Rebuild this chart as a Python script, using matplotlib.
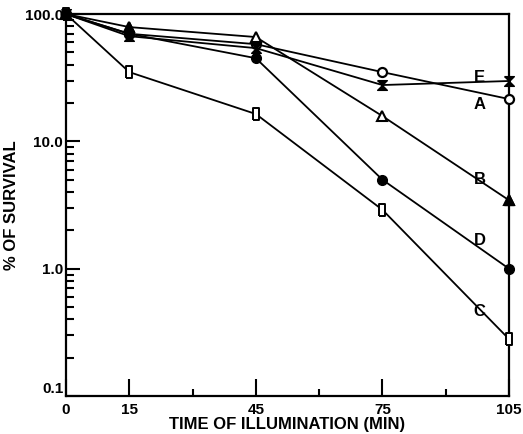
import matplotlib
matplotlib.use("Agg")
import matplotlib.pyplot as plt
from matplotlib.ticker import FixedLocator, NullFormatter

# time of illumination (min)
times = [0, 15, 45, 75, 105]

# % of survival
surv_a = [100, 70, 58, 35, 21.5]
surv_b = [100, 79, 66, 15.8, 3.45]
surv_c = [100, 35, 16.4, 2.9, 0.28]
surv_d = [100, 70, 45, 5.0, 1.0]
surv_e = [100, 67, 54, 27.7, 29.8]

curve_labels = ["A", "B", "C", "D", "E"]
label_pos = [(98, 19.5), (98, 5.0), (98, 0.46), (98, 1.65), (98, 32)]

x_ticks = [0, 15, 45, 75, 105]
x_minor = [30, 60, 90]
y_ticks = [0.1, 1, 10, 100]
y_tick_labels = ["0.1", "1.0", "10.0", "100.0"]

plt.rcParams["font.family"] = ["Liberation Sans", "DejaVu Sans"]
plt.rcParams["font.weight"] = "bold"

fig = plt.figure(figsize=(5.23, 4.34), dpi=100)
ax = fig.add_axes([0.1262, 0.0876, 0.847, 0.88])

rect = [(-0.55, -1), (0.55, -1), (0.55, 1), (-0.55, 1), (-0.55, -1)]
bowtie = [(-1, 1), (1, 1), (-1, -1), (1, -1), (-1, 1)]
lw = 1.3

ax.plot(times, surv_a, color="black", lw=lw, marker="o", ms=6.5,
        mfc="white", mec="black", mew=1.6, zorder=3, clip_on=False)
ax.plot(times, surv_b, color="black", lw=lw, marker="^", ms=7,
        mfc="white", mec="black", mew=1.5, zorder=3, clip_on=False)
ax.plot(times[-1], surv_b[-1], "^", color="black", ms=7, zorder=4, clip_on=False)
ax.plot(times[1], surv_b[1], "^", color="black", ms=7, zorder=4, clip_on=False)
ax.plot(times, surv_c, color="black", lw=lw, marker=rect, ms=8,
        mfc="white", mec="black", mew=1.4, zorder=3, clip_on=False)
ax.plot(times, surv_d, color="black", lw=lw, marker="o", ms=7,
        mfc="black", mec="black", zorder=3, clip_on=False)
ax.plot(times, surv_e, color="black", lw=lw, marker=bowtie, ms=7,
        mfc="black", mec="black", zorder=3, clip_on=False)

for lab, (lx, ly) in zip(curve_labels, label_pos):
    ax.text(lx, ly, lab, fontsize=12, fontweight="bold", ha="center", va="center")

ax.set_yscale("log")
ax.set_xlim(0, 105)
ax.set_ylim(0.1, 100)

ax.xaxis.set_major_locator(FixedLocator(x_ticks))
ax.xaxis.set_minor_locator(FixedLocator(x_minor))
ax.set_xticklabels([str(t) for t in x_ticks])
ax.yaxis.set_major_locator(FixedLocator(y_ticks))
ax.set_yticklabels(y_tick_labels)
ax.yaxis.set_minor_locator(FixedLocator(
    [m * d for d in (0.1, 1, 10) for m in range(2, 10)]))
ax.yaxis.set_minor_formatter(NullFormatter())

ax.tick_params(axis="x", which="major", direction="in", length=12, width=1.5,
               labelsize=11, pad=5)
ax.tick_params(axis="x", which="minor", direction="in", length=5, width=1.5)
ax.tick_params(axis="y", which="major", direction="in", length=10, width=1.5,
               labelsize=11, pad=2)
ax.tick_params(axis="y", which="minor", direction="in", length=6, width=1.5)

# lift the lowest y label a little so it clears the "0" below it
ax.get_yticklabels()[0].set_va("bottom")

for sp in ax.spines.values():
    sp.set_linewidth(1.6)

ax.set_xlabel("TIME OF ILLUMINATION (MIN)", fontsize=12, fontweight="bold", labelpad=0)
ax.set_ylabel("% OF SURVIVAL", fontsize=12, fontweight="bold", labelpad=4)

fig.savefig("out.png", dpi=100)
